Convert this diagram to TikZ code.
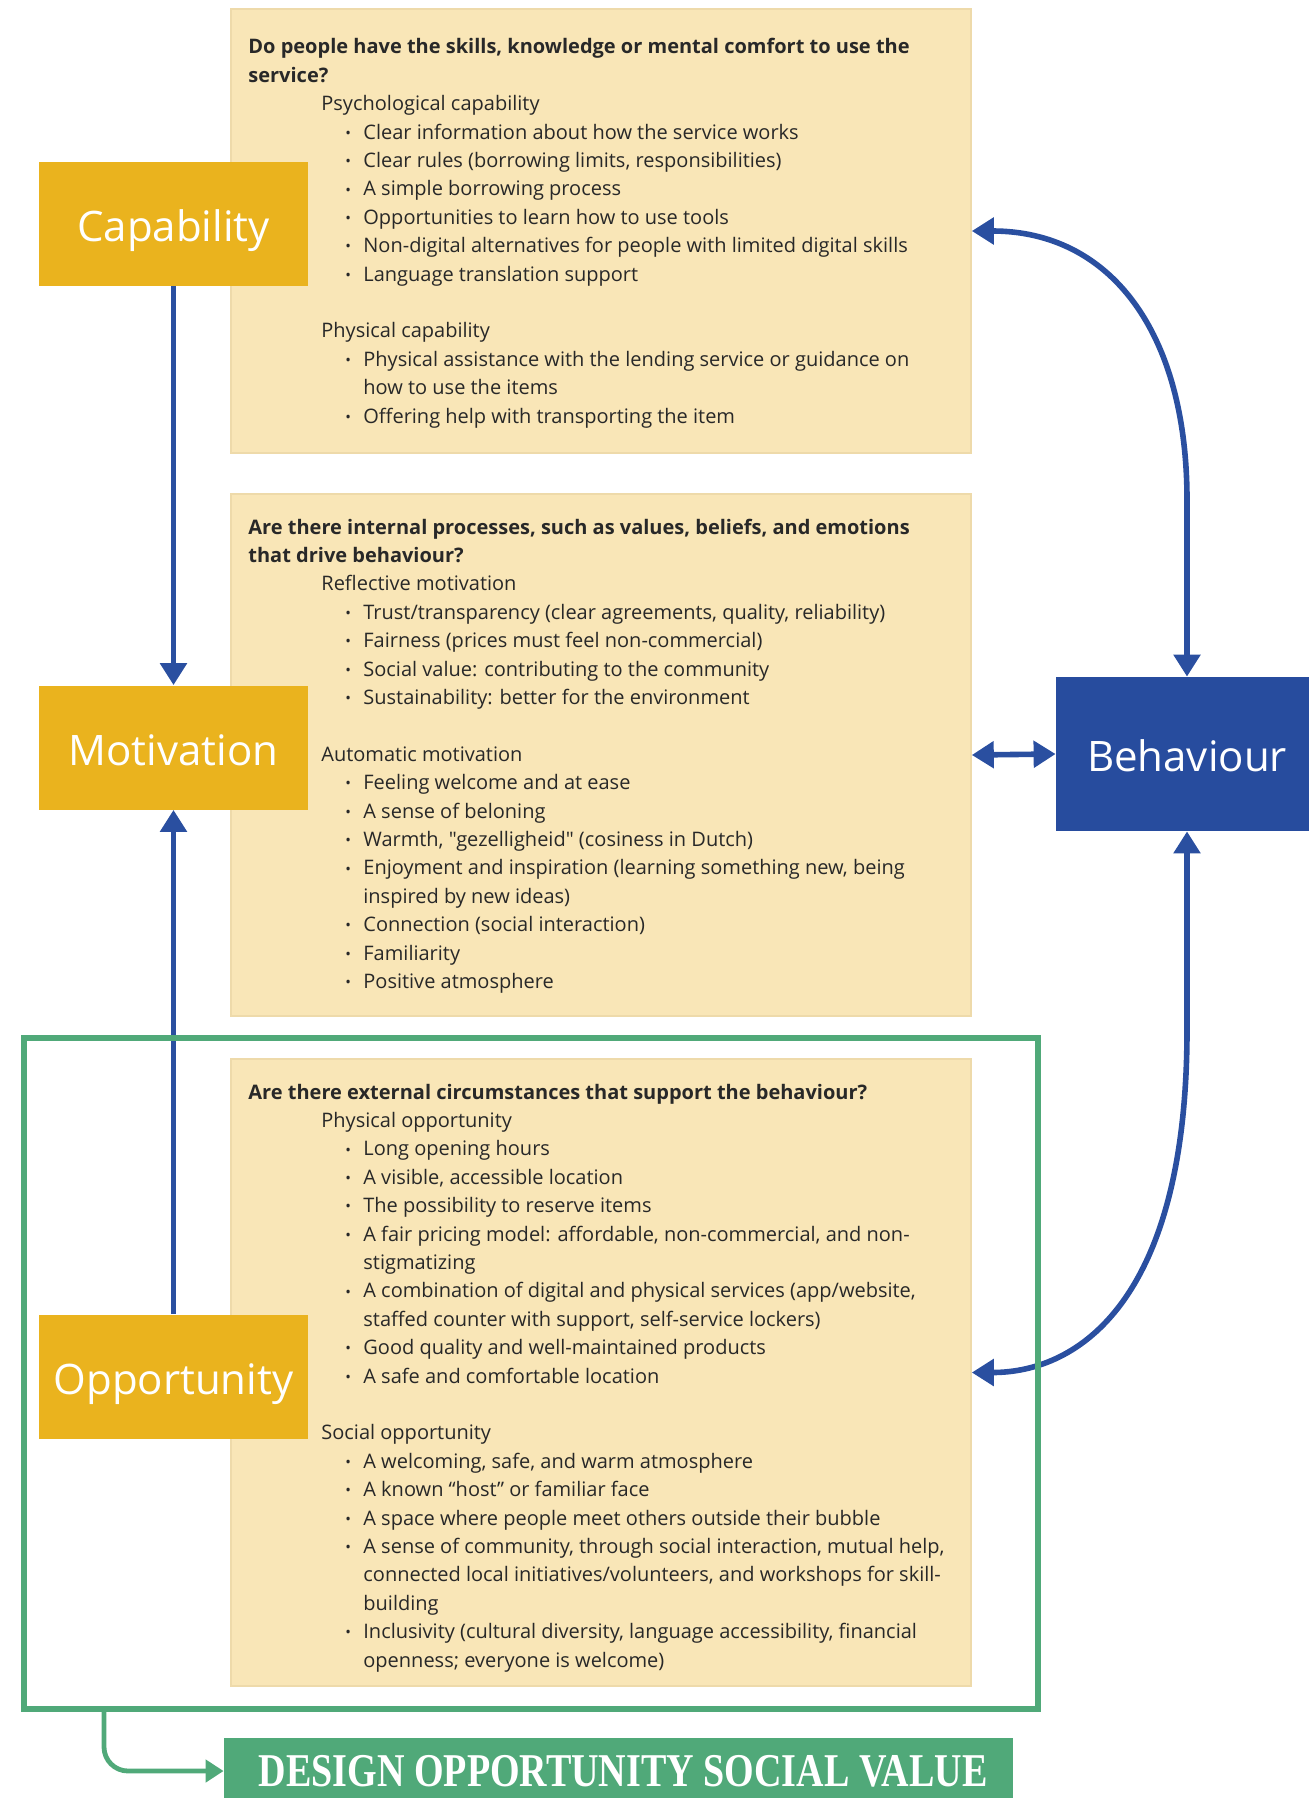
\documentclass[tikz,border=0pt]{standalone}
\usepackage{fontspec}
\setmainfont{Open Sans}[Ligatures=TeXOff]
\newfontfamily\bannerfont{Liberation Serif}
\usetikzlibrary{arrows.meta}

\definecolor{amber}{RGB}{234,179,30}
\definecolor{cream}{RGB}{249,230,183}
\definecolor{creamedge}{RGB}{238,218,170}
\definecolor{royal}{RGB}{42,79,160}
\definecolor{navy}{RGB}{39,76,158}
\definecolor{sage}{RGB}{80,169,121}
\definecolor{ink}{RGB}{40,40,40}

% line builders for the text panels
\newcommand\qln[1]{\noindent\textbf{#1}\par}
\newcommand\subln[1]{\noindent\hspace*{36.5pt}#1\par}
\newcommand\bul[1]{\noindent\hspace*{48.5pt}\makebox[9pt][l]{\raisebox{0.4pt}{\scalebox{0.75}{\textbullet}}}#1\par}
\newcommand\cont[1]{\noindent\hspace*{57.5pt}#1\par}
\newcommand\gap{\noindent\mbox{}\par}
\newcommand\panelbody[1]{\parbox[t]{420pt}{\fontsize{10}{14.2}\selectfont\parindent=0pt\parskip=0pt\baselineskip=14.2pt #1}}

\begin{document}
\begin{tikzpicture}[x=0.5pt,y=-0.5pt,
  >={Triangle[width=13pt,length=11pt]},
  panel/.style={fill=cream, draw=creamedge, line width=0.8pt, inner sep=0pt, minimum width=370pt},
  factor/.style={fill=amber, text=white, minimum width=134.5pt, minimum height=62pt, inner sep=0pt,
                 text height=17.5pt, text depth=0pt, font=\fontsize{21}{25}\selectfont},
  blk/.style={anchor=base west, inner sep=0pt, text=ink},
  link/.style={draw=royal, line width=2.8pt},
  greenline/.style={draw=sage, line width=2.4pt}
]
\useasboundingbox (0,0) rectangle (1309,1798);

% text panels
\node[panel, minimum height=222pt] (capPanel) at (601,231) {};
\node[panel, minimum height=261pt] (motPanel) at (601,755) {};
\node[panel, minimum height=313.5pt] (oppPanel) at (601,1372.5) {};

% COM-B factors
\node[factor] (cap) at (173.5,223.5) {Capability};
\node[factor] (mot) at (173.5,747.5) {Motivation};
\node[factor] (opp) at (173.5,1376.5) {Opportunity};
\node[fill=navy, text=white, minimum width=131pt, minimum height=77pt, inner sep=0pt,
      text height=17.5pt, text depth=0pt, font=\fontsize{21}{25}\selectfont] (beh) at (1187,754) {Behaviour};

% panel contents
\node[blk] (capText) at (248,54) {\panelbody{%
\qln{Do people have the skills, knowledge or mental comfort to use the}
\qln{service?}
\subln{Psychological capability}
\bul{Clear information about how the service works}
\bul{Clear rules (borrowing limits, responsibilities)}
\bul{A simple borrowing process}
\bul{Opportunities to learn how to use tools}
\bul{Non-digital alternatives for people with limited digital skills}
\bul{Language translation support}
\gap
\subln{Physical capability}
\bul{Physical assistance with the lending service or guidance on}
\cont{how to use the items}
\bul{Offering help with transporting the item}}};

\node[blk] (motText) at (248,534) {\panelbody{%
\qln{Are there internal processes, such as values, beliefs, and emotions}
\qln{that drive behaviour?}
\subln{Reflective motivation}
\bul{Trust/transparency (clear agreements, quality, reliability)}
\bul{Fairness (prices must feel non-commercial)}
\bul{Social value: contributing to the community}
\bul{Sustainability: better for the environment}
\gap
\subln{Automatic motivation}
\bul{Feeling welcome and at ease}
\bul{A sense of beloning}
\bul{Warmth, "gezelligheid" (cosiness in Dutch)}
\bul{Enjoyment and inspiration (learning something new, being}
\cont{inspired by new ideas)}
\bul{Connection (social interaction)}
\bul{Familiarity}
\bul{Positive atmosphere}}};

\node[blk] (oppText) at (248,1099) {\panelbody{%
\qln{Are there external circumstances that support the behaviour?}
\subln{Physical opportunity}
\bul{Long opening hours}
\bul{A visible, accessible location}
\bul{The possibility to reserve items}
\bul{A fair pricing model: affordable, non-commercial, and non-}
\cont{stigmatizing}
\bul{A combination of digital and physical services (app/website,}
\cont{staffed counter with support, self-service lockers)}
\bul{Good quality and well-maintained products}
\bul{A safe and comfortable location}
\gap
\subln{Social opportunity}
\bul{A welcoming, safe, and warm atmosphere}
\bul{A known “host” or familiar face}
\bul{A space where people meet others outside their bubble}
\bul{A sense of community, through social interaction, mutual help,}
\cont{connected local initiatives/volunteers, and workshops for skill-}
\cont{building}
\bul{Inclusivity (cultural diversity, language accessibility, financial}
\cont{openness; everyone is welcome)}}};

% connectors between factors
\draw[link, ->] (cap.south) -- (mot.north);
\draw[link, ->] (opp.north) -- (mot.south);
\draw[link, <->] (motPanel.east) -- (beh.west);

\coordinate (bendA) at (1187,500);
\coordinate (bendB) at (1187,1030);
\draw[link, <->] (capPanel.east) .. controls +(137,0) and +(0,-170) .. (bendA) -- (beh.north);
\draw[link, <->] (beh.south) -- (bendB) .. controls +(0,270) and +(107,0) .. (oppPanel.east);

% design opportunity frame and banner
\node[draw=sage, line width=3pt, minimum width=507pt, minimum height=335.5pt, inner sep=0pt] (frame) at (531,1373.5) {};
\node[fill=sage, text=white, minimum width=394.5pt, minimum height=33pt, inner sep=0pt] (banner) at (618.5,1771)
  {\hspace*{4.6pt}\scalebox{0.81}[1]{\bannerfont\bfseries\fontsize{23.5}{26}\selectfont DESIGN OPPORTUNITY SOCIAL VALUE}};
\coordinate (gstart) at (104,1710);
\draw[greenline, rounded corners=12pt, -{Triangle[width=11pt,length=9pt]}] (gstart) |- (banner.west);
\end{tikzpicture}
\end{document}
